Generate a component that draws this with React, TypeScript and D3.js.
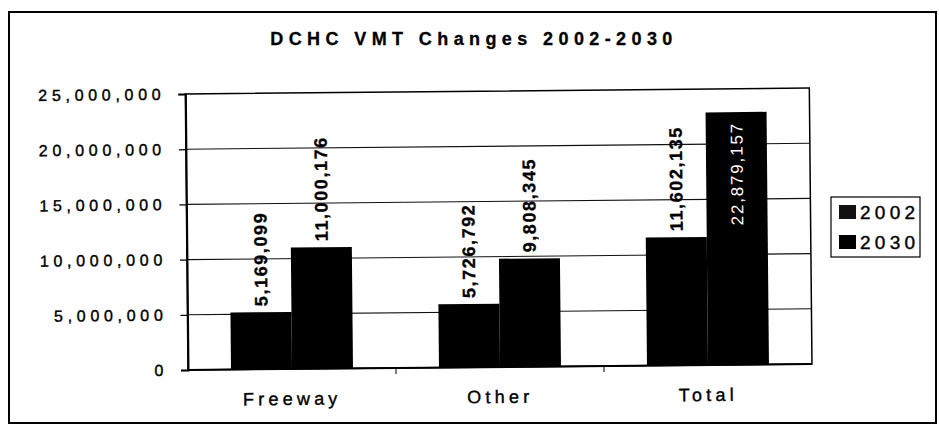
import React, { useRef, useEffect } from "react";
import { select, scaleBand, scaleLinear, axisLeft, format } from "d3";

const title = "DCHC VMT Changes 2002-2030";
const categories = ["Freeway", "Other", "Total"];
const seriesNames = ["2002", "2030"];
const values2002 = [5169099, 5726792, 11602135];
const values2030 = [11000176, 9808345, 22879157];
const yTicks = [0, 5000000, 10000000, 15000000, 20000000, 25000000];

const WIDTH = 939;
const HEIGHT = 434;
const FONT = "'Liberation Sans', Arial, sans-serif";

function App() {
  const svgRef = useRef(null);

  useEffect(() => {
    const svg = select(svgRef.current);
    svg.selectAll("*").remove();

    const left = 188;
    const right = 812;
    const top = 94;
    const bottom = 370;

    // outer frame
    svg
      .append("rect")
      .attr("x", 9)
      .attr("y", 12)
      .attr("width", 927)
      .attr("height", 411)
      .attr("fill", "white")
      .attr("stroke", "black")
      .attr("stroke-width", 2);

    svg
      .append("text")
      .attr("x", 474)
      .attr("y", 45)
      .attr("text-anchor", "middle")
      .attr("font-family", FONT)
      .attr("font-weight", "bold")
      .attr("font-size", 18)
      .attr("letter-spacing", 5.4)
      .attr("stroke", "black")
      .attr("stroke-width", 0.3)
      .text(title);

    // scan is slightly tilted
    const plot = svg
      .append("g")
      .attr("transform", `rotate(-0.55, ${left}, ${bottom})`);

    const x0 = scaleBand().domain(categories).range([left, right]);
    const x1 = scaleBand()
      .domain(seriesNames)
      .range([0, x0.bandwidth()])
      .paddingOuter(0.705);
    const y = scaleLinear().domain([0, 25000000]).range([bottom, top]);

    plot
      .selectAll(".grid")
      .data(yTicks.slice(1, -1))
      .join("line")
      .attr("class", "grid")
      .attr("x1", left)
      .attr("x2", right)
      .attr("y1", (d) => y(d))
      .attr("y2", (d) => y(d))
      .attr("stroke", "#111")
      .attr("stroke-width", 1.1);

    plot
      .append("rect")
      .attr("x", left)
      .attr("y", top)
      .attr("width", right - left)
      .attr("height", bottom - top)
      .attr("fill", "none")
      .attr("stroke", "black")
      .attr("stroke-width", 1.5);

    const rows = categories.flatMap((cat, i) => [
      { cat, series: "2002", value: values2002[i] },
      { cat, series: "2030", value: values2030[i] },
    ]);

    plot
      .selectAll(".bar")
      .data(rows)
      .join("rect")
      .attr("class", "bar")
      .attr("x", (d) => x0(d.cat) + x1(d.series))
      .attr("y", (d) => y(d.value))
      .attr("width", x1.bandwidth())
      .attr("height", (d) => bottom - y(d.value))
      .attr("fill", "black");

    rows.forEach((d) => {
      const cx = x0(d.cat) + x1(d.series) + x1.bandwidth() / 2;
      const barTop = y(d.value);
      const label = plot
        .append("text")
        .attr("font-family", FONT)
        .attr("font-weight", "bold")
        .attr("font-size", 18)
        .attr("letter-spacing", 1.6)
        .attr("dy", "0.36em")
        .text(format(",")(d.value));
      const len = label.node().getComputedTextLength();
      if (barTop - 6 - len < top) {
        label
          .attr("font-weight", "normal")
          .attr("font-size", 17)
          .attr("letter-spacing", 1.8)
          .attr("fill", "white")
          .attr("text-anchor", "end")
          .attr("transform", `translate(${cx},${barTop + 10}) rotate(-90)`);
      } else {
        label
          .attr("fill", "black")
          .attr("stroke", "black")
          .attr("stroke-width", 0.3)
          .attr("text-anchor", "start")
          .attr("transform", `translate(${cx},${barTop - 6}) rotate(-90)`);
      }
    });

    const yAxis = plot
      .append("g")
      .attr("transform", `translate(${left},0)`)
      .call(
        axisLeft(y)
          .tickValues(yTicks)
          .tickSize(7)
          .tickPadding(13)
          .tickFormat(format(","))
      );
    yAxis.select(".domain").attr("stroke-width", 2);
    yAxis.selectAll(".tick line").attr("stroke-width", 1.2);
    yAxis
      .selectAll(".tick text")
      .attr("font-family", FONT)
      .attr("font-size", 16)
      .attr("letter-spacing", 4.7)
      .attr("fill", "black")
      .attr("stroke", "black")
      .attr("stroke-width", 0.4);

    plot
      .append("line")
      .attr("x1", left)
      .attr("x2", right)
      .attr("y1", bottom)
      .attr("y2", bottom)
      .attr("stroke", "black")
      .attr("stroke-width", 2);

    plot
      .selectAll(".xtick")
      .data(categories.slice(1))
      .join("line")
      .attr("class", "xtick")
      .attr("x1", (d) => x0(d))
      .attr("x2", (d) => x0(d))
      .attr("y1", bottom)
      .attr("y2", bottom + 6)
      .attr("stroke", "black");

    plot
      .selectAll(".xlabel")
      .data(categories)
      .join("text")
      .attr("class", "xlabel")
      .attr("x", (d) => x0(d) + x0.bandwidth() / 2)
      .attr("y", bottom + 36)
      .attr("text-anchor", "middle")
      .attr("font-family", FONT)
      .attr("font-size", 18)
      .attr("letter-spacing", 4.2)
      .attr("stroke", "black")
      .attr("stroke-width", 0.4)
      .text((d) => d);

    // legend
    const legend = svg.append("g");
    legend
      .append("rect")
      .attr("x", 831)
      .attr("y", 197)
      .attr("width", 89)
      .attr("height", 60)
      .attr("fill", "white")
      .attr("stroke", "black")
      .attr("stroke-width", 1.2);
    seriesNames.forEach((name, i) => {
      const cy = 212 + i * 30;
      legend
        .append("rect")
        .attr("x", 839)
        .attr("y", cy - 7)
        .attr("width", 17)
        .attr("height", 14)
        .attr("fill", i === 0 ? "#111" : "black");
      legend
        .append("text")
        .attr("x", 860)
        .attr("y", cy)
        .attr("dy", "0.36em")
        .attr("font-family", FONT)
        .attr("font-size", 19)
        .attr("letter-spacing", 4.3)
        .attr("stroke", "black")
        .attr("stroke-width", 0.4)
        .text(name);
    });
  }, []);

  return (
    <svg
      ref={svgRef}
      width={WIDTH}
      height={HEIGHT}
      style={{ position: "absolute", left: 0, top: 0, background: "white" }}
    ></svg>
  );
}

export default App;
